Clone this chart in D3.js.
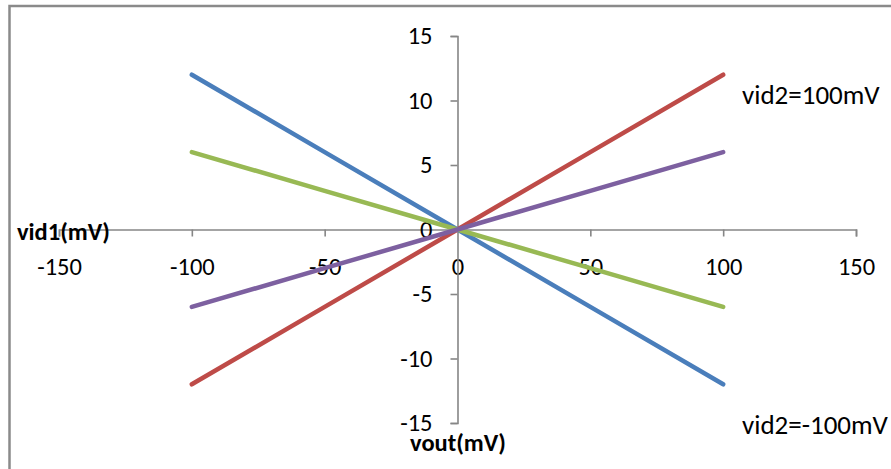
<!DOCTYPE html>
<html>
<head>
<meta charset="utf-8">
<script src="https://cdn.jsdelivr.net/npm/d3@7"></script>
<style>
  html, body { margin: 0; padding: 0; background: #fff; }
  svg { display: block; }
  text { font-family: Calibri, "Open Sans", "Noto Sans", sans-serif; fill: #000; }
</style>
</head>
<body>
<svg id="chart" width="891" height="469"></svg>
<script>
// vid1 sweep (mV) on the horizontal axis
const vid1 = [-100, -50, 0, 50, 100];

// vout (mV) for each series
const seriesBlue   = [12, 6, 0, -6, -12];
const seriesRed    = [-12, -6, 0, 6, 12];
const seriesGreen  = [6, 3, 0, -3, -6];
const seriesPurple = [-6, -3, 0, 3, 6];

const seriesColors = ["#4A7EBB", "#BE4B48", "#98B954", "#7D60A0"];

const xTicks = [-150, -100, -50, 0, 50, 100, 150];
const yTicks = [-15, -10, -5, 0, 5, 10, 15];

const annotations = [
  { text: "vid2=100mV", x: 742, y: 104 },
  { text: "vid2=-100mV", x: 742, y: 434 }
];

const svg = d3.select("#chart");

// outer chart frame
svg.append("rect")
  .attr("x", 9.5).attr("y", 6)
  .attr("width", 900).attr("height", 480)
  .attr("fill", "none")
  .attr("stroke", "#8a8a8a")
  .attr("stroke-width", 2.5);

const x = d3.scaleLinear().domain([-150, 150]).range([59, 856]);
const y = d3.scaleLinear().domain([-15, 15]).range([423, 36]);

const axisColor = "#868686";
const plainFormat = d => String(d);   // keeps an ASCII hyphen for negatives

// horizontal axis through vout = 0
const xAxis = svg.append("g")
  .attr("transform", `translate(0,${y(0)})`)
  .call(d3.axisBottom(x).tickValues(xTicks).tickSize(7).tickPadding(21)
    .tickFormat(plainFormat));
xAxis.select(".domain").attr("stroke", axisColor).attr("stroke-width", 1.6);
xAxis.selectAll(".tick line").attr("stroke", axisColor).attr("stroke-width", 1.6);
xAxis.selectAll(".tick text")
  .attr("font-size", 24.5)
  .style("font-family", 'Calibri, "Open Sans", sans-serif')
  .attr("fill", "#000");
xAxis.selectAll(".tick").filter(d => d === 0).select("line").remove();

// vertical axis through vid1 = 0
const yAxis = svg.append("g")
  .attr("transform", `translate(${x(0)},0)`)
  .call(d3.axisLeft(y).tickValues(yTicks).tickSize(7).tickPadding(18)
    .tickFormat(plainFormat));
yAxis.select(".domain").attr("stroke", axisColor).attr("stroke-width", 1.6);
yAxis.selectAll(".tick line").attr("stroke", axisColor).attr("stroke-width", 1.6);
yAxis.selectAll(".tick text")
  .attr("font-size", 24.5)
  .style("font-family", 'Calibri, "Open Sans", sans-serif')
  .attr("fill", "#000");
yAxis.selectAll(".tick").filter(d => d === 0).select("line").remove();

// series lines
const line = d3.line()
  .x((d, i) => x(vid1[i]))
  .y(d => y(d));

[seriesBlue, seriesRed, seriesGreen, seriesPurple].forEach((vals, i) => {
  svg.append("path")
    .datum(vals)
    .attr("d", line)
    .attr("fill", "none")
    .attr("stroke", seriesColors[i])
    .attr("stroke-width", 4.5)
    .attr("stroke-linecap", "round")
    .attr("stroke-linejoin", "round");
});

// axis titles
svg.append("text")
  .attr("x", 17).attr("y", 240)
  .attr("font-size", 24.5).attr("font-weight", "bold")
  .text("vid1(mV)");

svg.append("text")
  .attr("x", 458).attr("y", 451)
  .attr("text-anchor", "middle")
  .attr("font-size", 24.5).attr("font-weight", "bold")
  .text("vout(mV)");

// series annotations
svg.selectAll("text.note")
  .data(annotations)
  .join("text")
  .attr("class", "note")
  .attr("x", d => d.x).attr("y", d => d.y)
  .attr("font-size", 27)
  .text(d => d.text);
</script>
</body>
</html>
